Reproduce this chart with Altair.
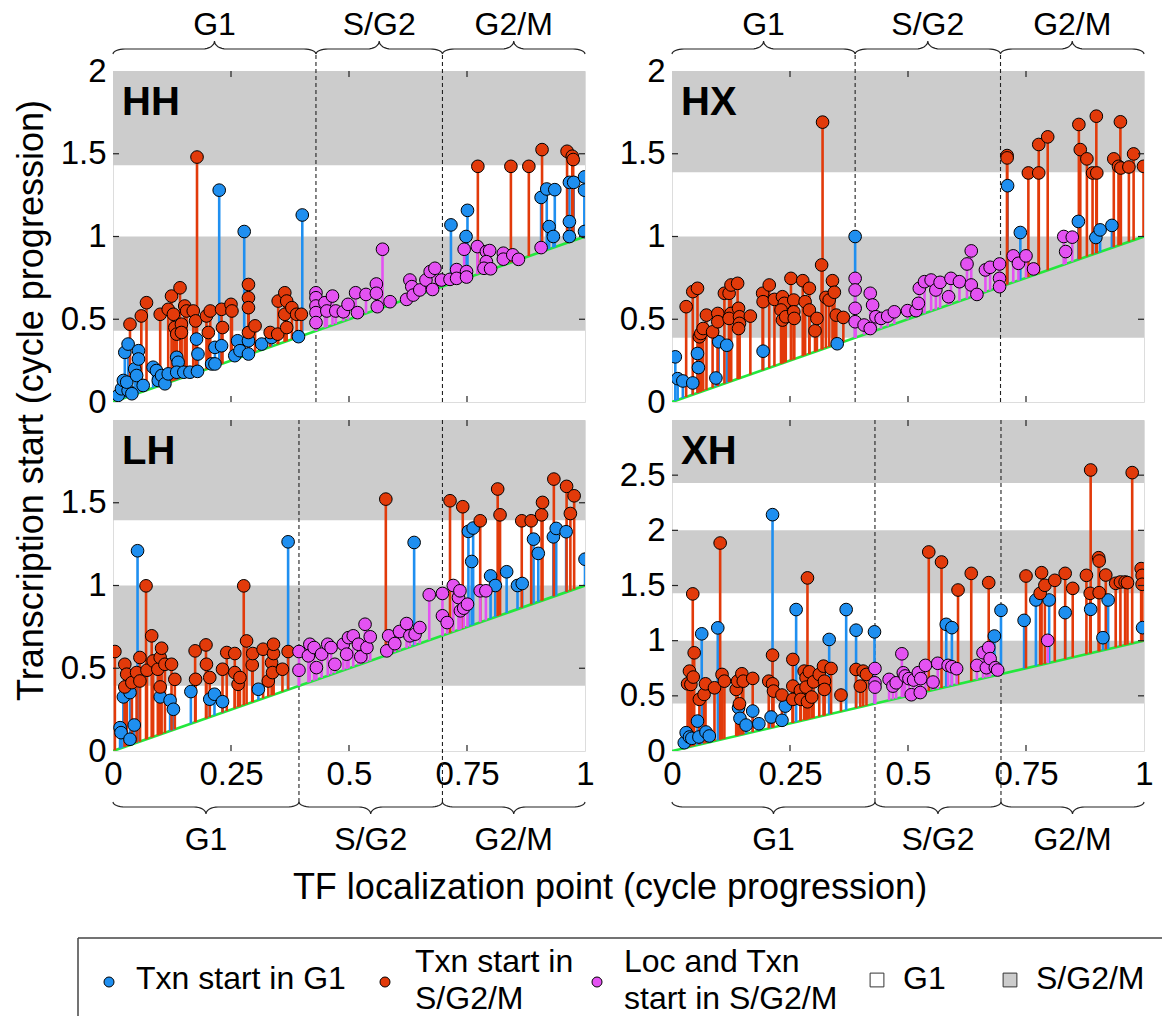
import altair as alt
import numpy as np
import pandas as pd

FONT = "Liberation Sans"
BLUE, RED, MAG = "#1f8ff0", "#e23a0a", "#e452f2"
GREEN, BAND = "#22e83c", "#cccccc"

# (localization point, transcription start) pairs, per panel and category
HH_G1 = [(0.011, 0.04), (0.018, 0.08), (0.022, 0.13), (0.025, 0.30), (0.032, 0.35), (0.032, 0.07),
         (0.040, 0.05), (0.029, 0.12), (0.046, 0.20), (0.050, 0.16), (0.054, 0.31), (0.054, 0.26),
         (0.064, 0.10), (0.085, 0.21), (0.092, 0.19), (0.096, 0.13), (0.103, 0.16), (0.110, 0.11),
         (0.117, 0.17), (0.135, 0.27), (0.138, 0.24), (0.135, 0.18), (0.150, 0.18), (0.163, 0.18),
         (0.177, 0.38), (0.180, 0.29), (0.179, 0.185), (0.209, 0.23), (0.216, 0.33), (0.230, 0.34),
         (0.216, 0.23), (0.225, 1.28), (0.258, 0.28), (0.264, 0.37), (0.269, 0.31), (0.278, 1.03),
         (0.287, 0.29), (0.287, 0.37), (0.315, 0.35), (0.336, 0.39), (0.393, 0.395), (0.401, 1.13),
         (0.716, 1.07), (0.751, 1.158), (0.748, 1.0), (0.907, 1.236), (0.919, 1.287), (0.936, 1.283),
         (0.924, 1.06), (0.933, 1.0), (0.967, 1.327), (0.976, 1.327), (0.967, 1.09), (0.967, 1.0),
         (0.999, 1.36), (0.999, 1.28), (0.999, 1.03)]
HH_SG2M = [(0.036, 0.47), (0.060, 0.52), (0.071, 0.60), (0.100, 0.53), (0.117, 0.56), (0.124, 0.64),
           (0.128, 0.53), (0.131, 0.45), (0.135, 0.41), (0.142, 0.69), (0.145, 0.47), (0.145, 0.42),
           (0.152, 0.58), (0.156, 0.55), (0.170, 0.55), (0.175, 0.49), (0.178, 1.48), (0.198, 0.52),
           (0.202, 0.42), (0.206, 0.55), (0.230, 0.56), (0.232, 0.45), (0.250, 0.59), (0.252, 0.55),
           (0.287, 0.71), (0.287, 0.63), (0.287, 0.57), (0.287, 0.42), (0.301, 0.46), (0.333, 0.42),
           (0.349, 0.41), (0.350, 0.61), (0.364, 0.66), (0.368, 0.61), (0.364, 0.53), (0.368, 0.45),
           (0.379, 0.57), (0.389, 0.53), (0.399, 0.53),
           (0.773, 1.424), (0.843, 1.424), (0.881, 1.424), (0.909, 1.525), (0.962, 1.515),
           (0.973, 1.485), (0.975, 1.465)]
HH_LOC = [(0.430, 0.66), (0.430, 0.63), (0.430, 0.58), (0.430, 0.54), (0.430, 0.48), (0.449, 0.60),
          (0.453, 0.55), (0.465, 0.64), (0.472, 0.55), (0.488, 0.545), (0.498, 0.59), (0.514, 0.66),
          (0.518, 0.54), (0.536, 0.65), (0.558, 0.713), (0.558, 0.657), (0.560, 0.576), (0.571, 0.923),
          (0.587, 0.606), (0.622, 0.62), (0.629, 0.737), (0.633, 0.697), (0.636, 0.646), (0.650, 0.677),
          (0.663, 0.737), (0.672, 0.788), (0.682, 0.808), (0.677, 0.68), (0.696, 0.737), (0.714, 0.741),
          (0.728, 0.80), (0.728, 0.747), (0.749, 0.788), (0.749, 0.755), (0.744, 0.923), (0.772, 0.939),
          (0.791, 0.909), (0.798, 0.915), (0.791, 0.848), (0.786, 0.808), (0.800, 0.805), (0.827, 0.899),
          (0.827, 0.863), (0.847, 0.889), (0.859, 0.862), (0.907, 0.933)]

HX_G1 = [(0.007, 0.273), (0.012, 0.141), (0.023, 0.127), (0.044, 0.115), (0.054, 0.293), (0.056, 0.208),
         (0.093, 0.145), (0.099, 0.364), (0.116, 0.343), (0.193, 0.307), (0.350, 0.352), (0.388, 1.0),
         (0.711, 1.307), (0.738, 1.024), (0.861, 1.091), (0.898, 0.994), (0.907, 1.04), (0.932, 1.067)]
HX_SG2M = [(0.030, 0.576), (0.044, 0.667), (0.054, 0.687), (0.058, 0.394), (0.061, 0.414), (0.066, 0.444),
           (0.073, 0.525), (0.086, 0.424), (0.097, 0.535), (0.097, 0.485), (0.111, 0.657), (0.121, 0.657),
           (0.125, 0.707), (0.125, 0.535), (0.121, 0.505), (0.139, 0.717), (0.141, 0.566), (0.143, 0.515),
           (0.143, 0.475), (0.141, 0.444), (0.166, 0.519), (0.192, 0.657), (0.193, 0.606), (0.206, 0.707),
           (0.217, 0.620), (0.234, 0.636), (0.238, 0.596), (0.231, 0.556), (0.234, 0.495), (0.241, 0.515),
           (0.252, 0.747), (0.258, 0.616), (0.258, 0.545), (0.259, 0.505), (0.277, 0.733), (0.282, 0.606),
           (0.291, 0.687), (0.291, 0.556), (0.303, 0.430), (0.307, 0.505), (0.319, 1.691), (0.317, 0.828),
           (0.326, 0.632), (0.333, 0.616), (0.340, 0.733), (0.344, 0.663), (0.348, 0.525), (0.363, 0.511),
           (0.710, 1.489), (0.710, 1.475), (0.755, 1.384), (0.777, 1.384), (0.777, 1.556), (0.796, 1.602),
           (0.862, 1.677), (0.865, 1.525), (0.879, 1.469), (0.891, 1.384), (0.900, 1.384), (0.899, 1.727),
           (0.936, 1.469), (0.946, 1.424), (0.950, 1.693), (0.951, 1.414), (0.968, 1.420), (0.978, 1.499),
           (0.999, 1.424)]
HX_LOC = [(0.388, 0.747), (0.388, 0.677), (0.388, 0.566), (0.388, 0.485), (0.407, 0.465), (0.420, 0.657),
          (0.425, 0.586), (0.420, 0.444), (0.432, 0.515), (0.443, 0.505), (0.457, 0.519), (0.471, 0.545),
          (0.499, 0.552), (0.517, 0.552), (0.522, 0.596), (0.524, 0.687), (0.535, 0.727), (0.549, 0.737),
          (0.559, 0.677), (0.568, 0.723), (0.586, 0.636), (0.591, 0.747), (0.609, 0.727), (0.625, 0.834),
          (0.634, 0.913), (0.634, 0.707), (0.646, 0.650), (0.664, 0.798), (0.674, 0.814), (0.694, 0.834),
          (0.694, 0.747), (0.694, 0.697), (0.723, 0.883), (0.734, 0.838), (0.750, 0.883), (0.766, 0.804),
          (0.830, 1.0), (0.848, 0.996), (0.834, 0.909)]

LH_G1 = [(0.015, 0.141), (0.017, 0.111), (0.036, 0.071), (0.045, 0.157), (0.022, 0.327), (0.036, 0.353),
         (0.052, 1.21), (0.100, 0.327), (0.121, 0.306), (0.128, 0.252), (0.165, 0.359), (0.205, 0.313),
         (0.215, 0.343), (0.232, 0.298), (0.308, 0.373), (0.371, 1.264),
         (0.638, 1.26), (0.753, 1.327), (0.763, 1.347), (0.760, 1.145), (0.800, 1.058), (0.810, 1.0),
         (0.834, 1.083), (0.857, 1.0), (0.867, 1.012), (0.891, 1.28), (0.901, 1.194), (0.933, 1.294),
         (0.939, 1.345), (0.960, 1.325), (1.0, 1.159)]
LH_SG2M = [(0.004, 0.601), (0.025, 0.524), (0.025, 0.387), (0.029, 0.464), (0.040, 0.413), (0.050, 0.474),
           (0.057, 0.423), (0.057, 0.565), (0.070, 0.998), (0.072, 0.488), (0.082, 0.696), (0.085, 0.544),
           (0.095, 0.494), (0.100, 0.565), (0.103, 0.621), (0.100, 0.387), (0.110, 0.524), (0.124, 0.524),
           (0.131, 0.433), (0.174, 0.605), (0.175, 0.433), (0.197, 0.641), (0.198, 0.524), (0.205, 0.444),
           (0.232, 0.494), (0.241, 0.595), (0.258, 0.589), (0.258, 0.474), (0.265, 0.403), (0.269, 0.444),
           (0.277, 0.998), (0.283, 0.665), (0.295, 0.520), (0.296, 0.589), (0.318, 0.615), (0.329, 0.423),
           (0.336, 0.534), (0.338, 0.474), (0.340, 0.589), (0.340, 0.645), (0.359, 0.494), (0.371, 0.601),
           (0.578, 1.522), (0.714, 1.512), (0.741, 1.476), (0.778, 1.391), (0.815, 1.583), (0.820, 1.427),
           (0.866, 1.391), (0.886, 1.391), (0.908, 1.427), (0.910, 1.502), (0.934, 1.643), (0.961, 1.599),
           (0.969, 1.435), (0.977, 1.542)]
LH_LOC = [(0.394, 0.601), (0.394, 0.488), (0.417, 0.645), (0.414, 0.575), (0.426, 0.625), (0.431, 0.504),
          (0.442, 0.585), (0.455, 0.645), (0.462, 0.625), (0.470, 0.524), (0.488, 0.645), (0.499, 0.685),
          (0.495, 0.585), (0.509, 0.696), (0.520, 0.645), (0.525, 0.569), (0.534, 0.766), (0.538, 0.625),
          (0.545, 0.690), (0.584, 0.696), (0.580, 0.605), (0.597, 0.649), (0.607, 0.722), (0.622, 0.770),
          (0.629, 0.696), (0.640, 0.706), (0.650, 0.746), (0.670, 0.944), (0.698, 0.952), (0.698, 0.817),
          (0.708, 0.776), (0.721, 1.0), (0.732, 0.927), (0.735, 0.968), (0.736, 0.847), (0.743, 0.863),
          (0.751, 0.887), (0.778, 0.968), (0.790, 0.968)]

XH_G1 = [(0.026, 0.075), (0.030, 0.166), (0.037, 0.127), (0.042, 0.115), (0.054, 0.271), (0.057, 0.127),
         (0.063, 1.062), (0.072, 0.172), (0.079, 0.136), (0.097, 1.116), (0.141, 0.392), (0.144, 0.296),
         (0.157, 0.235), (0.171, 0.362), (0.184, 0.247), (0.210, 0.308), (0.213, 2.142), (0.233, 0.278),
         (0.240, 0.407), (0.263, 1.282), (0.333, 1.011), (0.369, 1.282), (0.390, 1.095), (0.429, 1.08),
         (0.581, 1.148), (0.593, 1.118), (0.683, 1.042), (0.697, 1.275), (0.746, 1.184), (0.771, 1.369),
         (0.799, 1.369), (0.833, 1.254), (0.887, 1.284), (0.913, 1.027), (0.924, 1.369), (0.997, 1.118)]
XH_SG2M = [(0.033, 0.609), (0.037, 0.724), (0.040, 0.603), (0.044, 1.424), (0.047, 0.890), (0.045, 0.670),
           (0.058, 0.468), (0.068, 0.513), (0.071, 0.609), (0.090, 0.573), (0.102, 1.885), (0.106, 0.694),
           (0.111, 0.633), (0.136, 0.558), (0.139, 0.633), (0.143, 0.428), (0.148, 0.700), (0.151, 0.633),
           (0.171, 0.658), (0.205, 0.633), (0.213, 0.869), (0.213, 0.609), (0.215, 0.543), (0.233, 0.507),
           (0.256, 0.588), (0.256, 0.830), (0.256, 0.468), (0.272, 0.549), (0.273, 0.468), (0.280, 0.724),
           (0.284, 0.664), (0.284, 0.579), (0.287, 1.569), (0.291, 0.718), (0.287, 0.446), (0.296, 0.489),
           (0.300, 0.627), (0.312, 0.694), (0.321, 0.769), (0.323, 0.633), (0.323, 0.558), (0.337, 0.748),
           (0.358, 0.507), (0.390, 0.739), (0.399, 0.588), (0.405, 0.724), (0.412, 0.694),
           (0.544, 1.804), (0.571, 1.713), (0.606, 1.459), (0.634, 1.610), (0.671, 1.526), (0.750, 1.586),
           (0.783, 1.616), (0.780, 1.429), (0.790, 1.502), (0.811, 1.547), (0.833, 1.610), (0.849, 1.474),
           (0.878, 1.592), (0.887, 2.547), (0.886, 1.429), (0.904, 1.752), (0.905, 1.722), (0.905, 1.435),
           (0.919, 1.595), (0.940, 1.520), (0.950, 1.532), (0.960, 1.532), (0.965, 1.526), (0.975, 2.523),
           (0.994, 1.653), (0.996, 1.592), (0.996, 1.511)]
XH_LOC = [(0.430, 0.748), (0.430, 0.618), (0.430, 0.579), (0.460, 0.649), (0.468, 0.588), (0.475, 0.618),
          (0.487, 0.881), (0.490, 0.709), (0.494, 0.680), (0.502, 0.656), (0.507, 0.510), (0.512, 0.643),
          (0.522, 0.710), (0.526, 0.530), (0.527, 0.656), (0.537, 0.776), (0.553, 0.625), (0.563, 0.795),
          (0.585, 0.776), (0.593, 0.764), (0.603, 0.746), (0.646, 0.776), (0.659, 0.891), (0.666, 0.755),
          (0.671, 0.937), (0.674, 0.837), (0.685, 0.755), (0.690, 0.734), (0.796, 1.003)]

SERIES = {"HH": [HH_G1, HH_SG2M, HH_LOC], "HX": [HX_G1, HX_SG2M, HX_LOC],
          "LH": [LH_G1, LH_SG2M, LH_LOC], "XH": [XH_G1, XH_SG2M, XH_LOC]}

# phase boundaries (fraction of the cycle) and axis ranges per strain
G1_END = {"HH": 0.430, "HX": 0.388, "LH": 0.394, "XH": 0.430}
SG2_END = {"HH": 0.698, "HX": 0.696, "LH": 0.698, "XH": 0.697}
Y_MAX = {"HH": 2, "HX": 2, "LH": 2, "XH": 3}
Y_TICKS = {"HH": [0, 0.5, 1, 1.5, 2], "HX": [0, 0.5, 1, 1.5, 2],
           "LH": [0, 0.5, 1, 1.5], "XH": [0, 0.5, 1, 1.5, 2, 2.5]}
X_TICKS = [0, 0.25, 0.5, 0.75, 1]
PHASES = ["G1", "S/G2", "G2/M"]
CATS = ["Txn start in G1", "Txn start in S/G2/M", "Loc and Txn start in S/G2/M"]
COLORS = [BLUE, RED, MAG]
LEGEND_TEXT = ["Txn start in G1", "Txn start in\nS/G2/M", "Loc and Txn\nstart in S/G2/M"]
BAND_LEGEND = ["G1", "S/G2/M"]

W, H = 472, 331
color_scale = alt.Scale(domain=CATS, range=COLORS)


def brace_path(a, b, end, flat, tip, r):
    """Curly brace from a to b (x in data units); offsets in px away from the plot."""
    m = (a + b) / 2
    t = np.linspace(0, np.pi / 2, 9)
    xs = np.concatenate([a + r * (1 - np.cos(t)), m - r + r * np.sin(t)])
    ys = np.concatenate([end + (flat - end) * np.sin(t), flat + (tip - flat) * (1 - np.cos(t))])
    xr = (a + b) - xs[::-1]
    yr = ys[::-1]
    return np.concatenate([xs, xr]), np.concatenate([ys, yr])


def one(**kw):
    return alt.Chart(pd.DataFrame([kw]))


def legend_layers(dy):
    """Shared x title and the legend box, drawn in pixel units below the bottom-left panel."""
    out = []
    out.append(one(t="TF localization point (cycle progression)").mark_text(
        font=FONT, fontSize=36, align="center", baseline="middle", color="black").encode(
        text="t:N", x=alt.value(497), y=alt.value(dy + 119)))
    out.append(one(a=0).mark_rule(color="#444444", strokeWidth=1.5).encode(
        x=alt.value(-35), x2=alt.value(1049), y=alt.value(dy + 169)))
    out.append(one(a=0).mark_rule(color="#444444", strokeWidth=1.5).encode(
        x=alt.value(-35), y=alt.value(dy + 169), y2=alt.value(dy + 247)))
    for col, txt, mx, tx in zip(COLORS, LEGEND_TEXT, [-4, 272, 484], [23, 302, 511]):
        out.append(one(a=0).mark_point(shape="circle", size=100, filled=True, opacity=1, stroke="black",
                                       strokeWidth=1, color=col).encode(
            x=alt.value(mx), y=alt.value(dy + 213)))
        ty = dy + 210 if "\n" not in txt else dy + 193
        out.append(one(t=txt).mark_text(font=FONT, fontSize=32, align="left", baseline="middle",
                                        lineBreak="\n", lineHeight=37, color="black").encode(
            text="t:N", x=alt.value(tx), y=alt.value(ty)))
    for fill, txt, mx in zip(["white", BAND], BAND_LEGEND, [764, 897]):
        out.append(one(a=0).mark_square(size=190, opacity=1, stroke="#333333", strokeWidth=1, color=fill).encode(
            x=alt.value(mx), y=alt.value(dy + 211)))
        out.append(one(t=txt).mark_text(font=FONT, fontSize=32, align="left", baseline="middle",
                                        color="black").encode(
            text="t:N", x=alt.value(mx + 26), y=alt.value(dy + 210)))
    return out


def panel(name, bottom):
    ymax = Y_MAX[name]
    upp = ymax / H
    lab = dict(labelFont=FONT, labelFontSize=33, labelColor="black", labelExpr="'' + datum.value",
               domain=False, ticks=False, grid=False, labelOverlap=False, labelFlush=False)
    xaxis = alt.Axis(values=X_TICKS, labels=bottom, labelPadding=7, title="", **lab)
    if name == "HH":
        yaxis = alt.Axis(values=Y_TICKS[name], labelPadding=7, title="Transcription start (cycle progression)",
                         titleFont=FONT, titleFontSize=36, titleFontWeight="normal", titleColor="black",
                         titleY=329, titleX=-63, titleBaseline="bottom", **lab)
    else:
        yaxis = alt.Axis(values=Y_TICKS[name], labelPadding=7, title="", **lab)
    X = alt.X("x:Q", scale=alt.Scale(domain=[0, 1], nice=False, zero=False), axis=xaxis)
    Y = alt.Y("y:Q", scale=alt.Scale(domain=[0, ymax], nice=False, zero=False), axis=yaxis)

    g1 = G1_END[name]
    bands = []
    k = 0
    while g1 + k < ymax:
        bands.append({"y": g1 + k, "y2": min(1 + k, ymax)})
        k += 1
    band_layer = alt.Chart(pd.DataFrame(bands)).mark_rect(color=BAND).encode(
        y=Y, y2="y2:Q", x=alt.value(0), x2=alt.value(W))

    stem_df = pd.DataFrame([{"x": x, "y": x, "y2": y, "cat": c}
                            for c, ser in zip(CATS, SERIES[name]) for x, y in ser])
    dot_df = pd.DataFrame([{"x": x, "y": y, "cat": c}
                           for c, ser in zip(CATS, SERIES[name]) for x, y in ser])
    stems = alt.Chart(stem_df).mark_rule(strokeWidth=2.6, clip=True).encode(
        x=X, y=Y, y2="y2:Q", color=alt.Color("cat:N", scale=color_scale, legend=None))
    dots = alt.Chart(dot_df).mark_circle(size=160, opacity=1, stroke="black", strokeWidth=1, clip=True).encode(
        x=X, y=Y, color=alt.Color("cat:N", scale=color_scale, legend=None))

    diag = alt.Chart(pd.DataFrame({"x": [0, 1], "y": [0, 1]})).mark_line(
        color=GREEN, strokeWidth=2.6, clip=True).encode(x=X, y=Y)

    bounds = [g1, SG2_END[name]]
    if bottom:
        dash_df = pd.DataFrame({"x": bounds, "y": [ymax] * 2, "y2": [-52 * upp] * 2})
    else:
        dash_df = pd.DataFrame({"x": bounds, "y": [0] * 2, "y2": [ymax + 18 * upp] * 2})
    dashed = alt.Chart(dash_df).mark_rule(color="#222222", strokeWidth=1.1, strokeDash=[4, 3]).encode(
        x=X, y=Y, y2="y2:Q")

    # phase braces and their labels
    edges = [0, g1, SG2_END[name], 1]
    rows, labels = [], []
    for i in range(3):
        if bottom:
            bx, by = brace_path(edges[i], edges[i + 1], 51, 56, 63, 12 / W)
            ylab = -89 * upp
            yy = -by * upp
        else:
            bx, by = brace_path(edges[i], edges[i + 1], 17, 22, 30, 12 / W)
            ylab = ymax + 46 * upp
            yy = ymax + by * upp
        for j, (u, v) in enumerate(zip(bx, yy)):
            rows.append({"x": u, "y": v, "id": i, "o": j})
        labels.append({"x": (edges[i] + edges[i + 1]) / 2, "y": ylab, "t": PHASES[i]})
    braces = alt.Chart(pd.DataFrame(rows)).mark_line(color="#222222", strokeWidth=1.2).encode(
        x=X, y=Y, detail="id:N", order="o:Q")
    phase_text = alt.Chart(pd.DataFrame(labels)).mark_text(
        font=FONT, fontSize=32, baseline="middle", align="center", color="black").encode(
        x=X, y=Y, text="t:N")

    # inward tick marks on all four sides
    xt = pd.DataFrame({"x": [v for v in X_TICKS if 0 < v < 1]})
    yt = pd.DataFrame({"y": [v for v in Y_TICKS[name] if 0 < v < ymax]})
    tick_style = dict(color="#222222", strokeWidth=1.2)
    ticks = [
        alt.Chart(xt).mark_rule(**tick_style).encode(x=X, y=alt.value(H), y2=alt.value(H - 6)),
        alt.Chart(xt).mark_rule(**tick_style).encode(x=X, y=alt.value(0), y2=alt.value(6)),
        alt.Chart(yt).mark_rule(**tick_style).encode(y=Y, x=alt.value(0), x2=alt.value(6)),
        alt.Chart(yt).mark_rule(**tick_style).encode(y=Y, x=alt.value(W), x2=alt.value(W - 6)),
    ]

    title = one(t=name).mark_text(
        font=FONT, fontSize=40, fontWeight="bold", align="left", baseline="alphabetic", color="black").encode(
        text="t:N", x=alt.value(9), y=alt.value(44))

    layers = [band_layer, dashed, diag, stems, dots, *ticks, title, braces, phase_text]
    if name == "LH":
        layers += legend_layers(H + 18)
    return alt.layer(*layers).properties(width=W, height=H)


chart = alt.concat(panel("HH", False), panel("HX", False), panel("LH", True), panel("XH", True),
                   columns=2, spacing={"row": 18, "column": 87}, bounds="flush").properties(
    padding={"left": 12, "top": 8, "right": 0, "bottom": 0}
).configure_view(stroke="#222222", strokeWidth=1.5).configure(background="white")

chart.save("out.html", embed_options={"renderer": "svg", "actions": False})
